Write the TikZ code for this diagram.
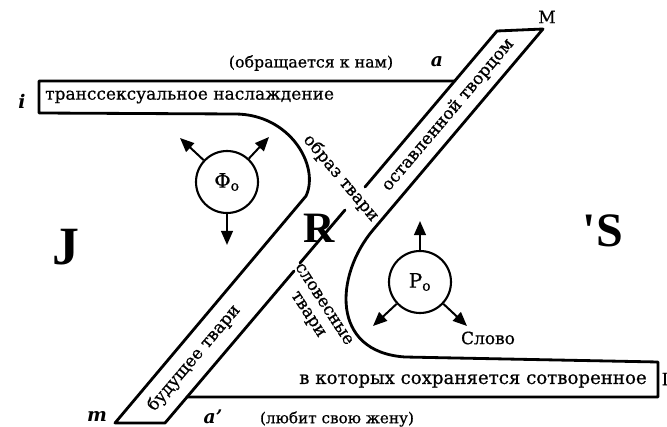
\documentclass[tikz,border=0pt]{standalone}
\usepackage{fontspec}
\setmainfont{DejaVu Serif}
\newfontfamily\heavyfont{DejaVu Serif}[FakeBold=0.7]
\newfontfamily\bigfont{Liberation Serif}
\usetikzlibrary{arrows.meta}

\tikzset{
  contour/.style={line width=2.4pt,line join=round,line cap=round},
  ring/.style={draw,circle,line width=1.8pt,minimum size=1.86cm,inner sep=0pt,font=\heavyfont\fontsize{17}{19}\selectfont},
  ray/.style={line width=1.7pt,-{Triangle[length=12pt,width=10pt]}},
  lbl/.style={inner sep=0pt,font=\heavyfont\fontsize{14.5}{16}\selectfont},
  var/.style={inner sep=0pt,font=\fontsize{16}{18}\selectfont\bfseries\itshape},
  letter/.style={inner sep=0pt,font=\bigfont\fontsize{46}{50}\selectfont\bfseries}
}

\begin{document}
\begin{tikzpicture}[x=0.03cm,y=0.03cm]
  \useasboundingbox (0,0) rectangle (667,-427);

  \draw[contour] (455,-81) -- (39,-81) -- (39,-113) -- (235,-114)
    .. controls (290,-114) and (320,-166) .. (306,-196) -- (115,-423) -- (165,-423) -- (294,-271);
  \draw[contour] (300,-263) -- (345,-210);
  \draw[contour] (365,-187) -- (497,-31) -- (543,-29) -- (373,-230)
    .. controls (335,-275) and (330,-352) .. (405,-357) -- (658,-362) -- (658,-397) -- (187,-397);

  \node[ring] (phi) at (227,-182) {Φ\textsubscript{o}};
  \node[ring] (rho) at (420,-282) {P\textsubscript{o}};
  \coordinate (phiNW) at (180,-138);
  \coordinate (phiNE) at (269,-137);
  \coordinate (phiS) at (227,-245);
  \coordinate (rhoN) at (420,-221);
  \coordinate (rhoSW) at (373,-326);
  \coordinate (rhoSE) at (467,-326);
  \draw[ray] (phi) -- (phiNW);
  \draw[ray] (phi) -- (phiNE);
  \draw[ray] (phi) -- (phiS);
  \draw[ray] (rho) -- (rhoN);
  \draw[ray] (rho) -- (rhoSW);
  \draw[ray] (rho) -- (rhoSE);

  \node[lbl,font=\heavyfont\fontsize{13.5}{15}\selectfont] (speak) at (311,-63) {(обращается к нам)};
  \node[lbl,anchor=west] (trans) at (45,-97) {транссексуальное наслаждение};
  \node[lbl,rotate=49.7] (left) at (448,-115) {оставленной творцом};
  \node[lbl,rotate=-50] (image) at (341,-178) {образ твари};
  \node[lbl,rotate=-57,align=center] (verbal) at (315,-310) {словесные\\твари};
  \node[lbl,rotate=49.7] (future) at (194,-358) {будущее твари};
  \node[lbl] (word) at (488,-338) {Слово};
  \node[lbl,font=\heavyfont\fontsize{15.5}{17}\selectfont] (kept) at (473,-381) {в которых сохраняется сотворенное};
  \node[lbl,font=\heavyfont\fontsize{13}{15}\selectfont] (love) at (337,-419) {(любит свою жену)};

  \node[var] (vi) at (22,-101) {i};
  \node[var] (va) at (437,-62) {a};
  \node[var] (vm) at (97,-417) {m};
  \node[var] (vap) at (213,-417) {a'};
  \node[lbl] (vM) at (547,-17) {M};
  \node[lbl] (vI) at (665,-379) {I};

  \node[letter] (J) at (66,-247) {J};
  \node[letter,font=\bigfont\fontsize{37}{40}\selectfont\bfseries] (R) at (319,-228) {R};
  \node[letter,font=\bigfont\fontsize{41}{44}\selectfont\bfseries] (S) at (603,-231) {'S};
\end{tikzpicture}
\end{document}
